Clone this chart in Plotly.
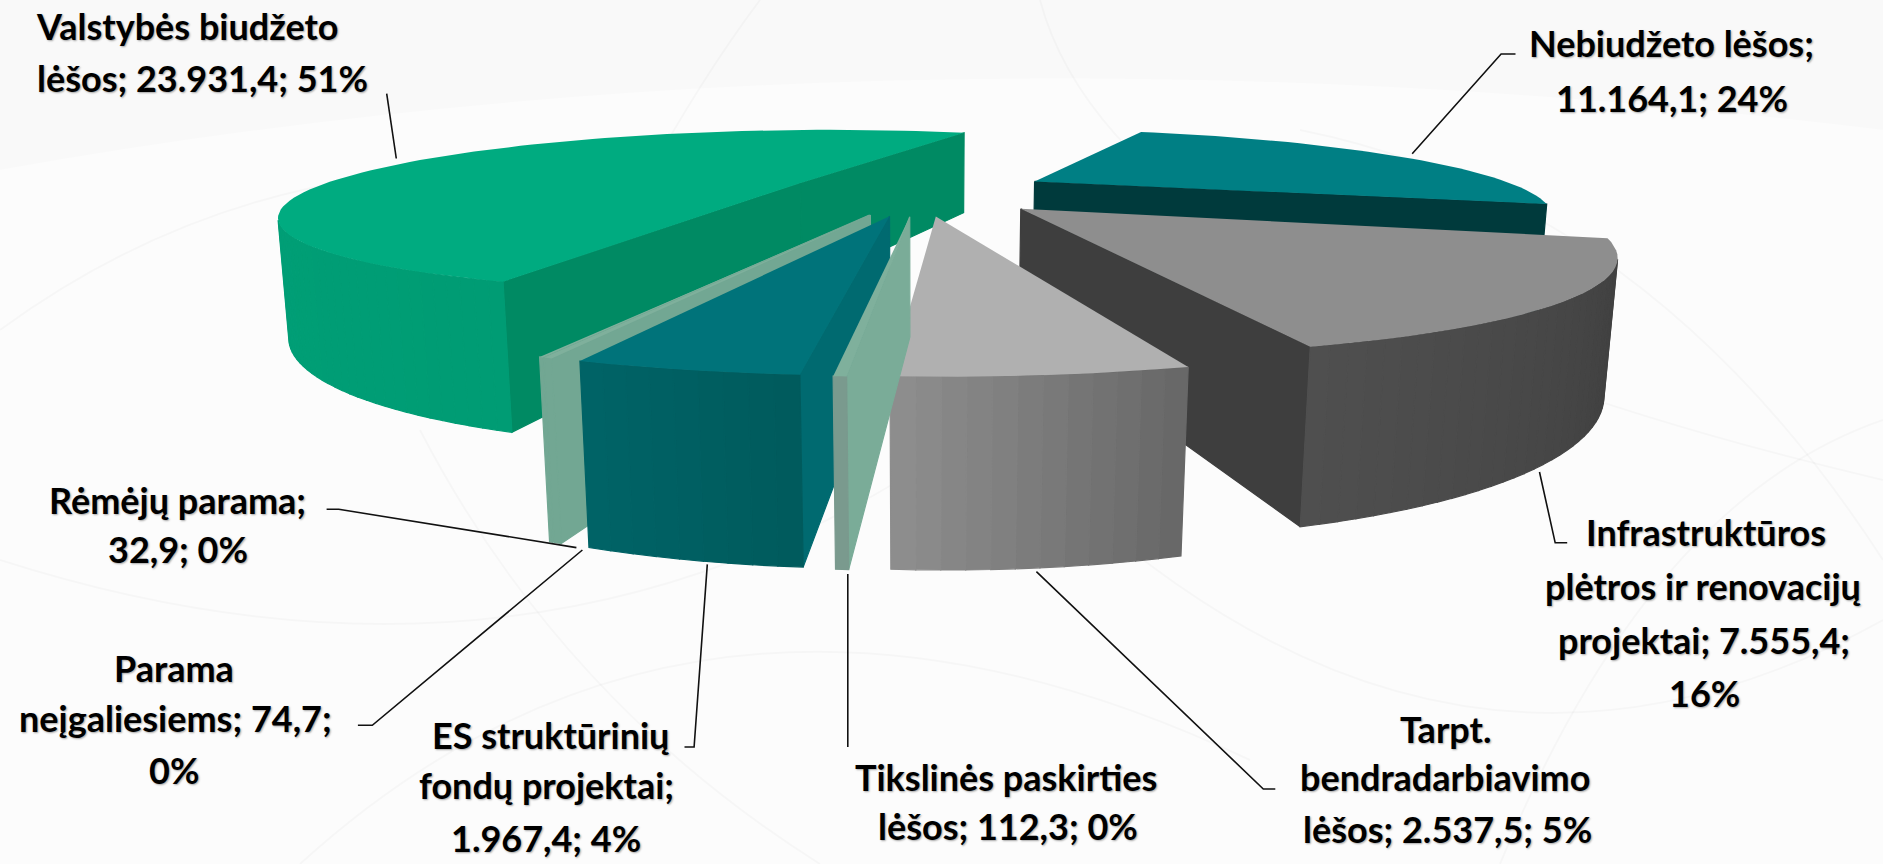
import math
import plotly.graph_objects as go

# ---- data ----
categories = ["Valstybės biudžeto lėšos", "Nebiudžeto lėšos", "Infrastruktūros plėtros ir renovacijų projektai",
              "Tarpt. bendradarbiavimo lėšos", "Tikslinės paskirties lėšos", "ES struktūrinių fondų projektai",
              "Parama neįgaliesiems", "Rėmėjų parama"]
values = [23931.4, 11164.1, 7555.4, 2537.5, 112.3, 1967.4, 74.7, 32.9]
top_colors = ["#00AB80", "#007F84", "#8E8E8E", "#B0B0B0", "#7FB09C", "#00737A", "#7FB09C", "#7FB09C"]
cut_colors = ["#008A63", "#003A3C", "#3E3E3E", "#6E6E6E", "#7AAC98", "#006A70", "#72A793", "#72A793"]
rim_start = ["#009C74", "#005A5C", "#3C3C3C", "#666666", "#7A9A8E", "#005A5C", "#72A793", "#72A793"]
rim_end = ["#00A67C", "#005A5C", "#4F4F4F", "#8F8F8F", "#7A9A8E", "#006467", "#72A793", "#72A793"]
label_lines = [
    ["Valstybės biudžeto", "lėšos; 23.931,4; 51%"],
    ["Nebiudžeto lėšos;", "11.164,1; 24%"],
    ["Infrastruktūros", "plėtros ir renovacijų", "projektai; 7.555,4;", "16%"],
    ["Tarpt.", "bendradarbiavimo", "lėšos; 2.537,5; 5%"],
    ["Tikslinės paskirties", "lėšos; 112,3; 0%"],
    ["ES struktūrinių", "fondų projektai;", "1.967,4; 4%"],
    ["Parama", "neįgaliesiems; 74,7;", "0%"],
    ["Rėmėjų parama;", "32,9; 0%"],
]

# ---- layout of labels and leaders (pixels of the page) ----
SC = 1883 / 1568
label_pos = [
    [(156, 22), (169, 65)],
    [(1392, 36), (1392, 82)],
    [(1421, 443), (1418, 488), (1419, 533), (1419, 577)],
    [(1204, 607), (1203, 647), (1205, 690)],
    [(838, 647), (839, 688)],
    [(458, 612), (455, 654), (455, 698)],
    [(145, 556), (146, 598), (145, 641)],
    [(148, 416), (148, 457)],
]
leaders = [
    [(322, 78), (330, 132)],
    [(1262, 45), (1250, 45), (1176, 128)],
    [(1282, 393), (1295, 452), (1305, 452)],
    [(863, 476), (1052, 657), (1062, 657)],
    [(706, 478), (706, 622)],
    [(589, 470), (578, 622), (570, 622)],
    [(485, 458), (310, 604), (298, 604)],
    [(272, 424), (282, 424), (480, 456)],
]
bg_curves = [
    "M 0 330 Q 300 110 700 190", "M 1040 0 Q 1120 300 1883 480", "M 1300 130 Q 1650 200 1883 560",
    "M 0 560 Q 500 720 900 480", "M 300 864 Q 700 500 1250 760", "M 1050 480 Q 1450 860 1883 620",
    "M 1500 864 Q 1650 500 1883 420", "M 420 430 Q 560 700 820 864", "M 760 0 Q 700 80 640 190",
]

# ---- projection of the exploded pie ----
CX, CY = 920.0, 198.0
FX, FY = 1225.0, 1265.0
D, PHI = 2.41, math.radians(10)
H = 0.219
EXPLODE = 0.27
RY = 0.90
C0 = (0.0, 0.08)
START = 22.0  # bearing at which the first slice ends, clockwise from far side
cs, sn = math.cos(PHI), math.sin(PHI)
CAM = (0.0, -D * cs, D * sn)


def project(x, y, z):
    zc = D + y * cs - z * sn
    return CX + FX * x / zc, CY - FY * (y * sn + z * cs) / zc


def rgb(h):
    return tuple(int(h[i:i + 2], 16) for i in (1, 3, 5))


def mix(a, b, t):
    ca, cb = rgb(a), rgb(b)
    return "#%02x%02x%02x" % tuple(round(ca[i] + (cb[i] - ca[i]) * t) for i in range(3))


fig = go.Figure()


def add_face(points, color, name, seam=True):
    xy = [project(*p) for p in points]
    xs = [q[0] for q in xy] + [xy[0][0]]
    ys = [q[1] for q in xy] + [xy[0][1]]
    fig.add_trace(go.Scatter(x=xs, y=ys, mode="lines", fill="toself", fillcolor=color,
                             line=dict(color=color, width=1.2 if seam else 0),
                             hoverinfo="text", text=name, showlegend=False))


def visible(point, normal):
    return sum((CAM[i] - point[i]) * normal[i] for i in range(3)) > 0


total = sum(values)
slices = []
# first slice ends at START, the others follow clockwise
theta = START - 360 * values[0] / total
for i, v in enumerate(values):
    span = 360 * v / total
    slices.append((i, theta, theta + span))
    theta += span


def draw_slice(i, t0, t1):
    name = categories[i]
    mid = math.radians((t0 + t1) / 2)
    ax = C0[0] + EXPLODE * math.sin(mid)
    ay = C0[1] + EXPLODE * math.cos(mid)
    a0, a1 = math.radians(t0), math.radians(t1)
    rim = lambda a: (ax + math.sin(a), ay + RY * math.cos(a))
    # cut faces
    for a, sign in ((a0, -1), (a1, 1)):
        px, py = rim(a)
        n = (sign * RY * math.cos(a), -sign * math.sin(a), 0.0)
        if visible((ax, ay, 0.0), n):
            add_face([(ax, ay, 0), (px, py, 0), (px, py, -H), (ax, ay, -H)], cut_colors[i], name)
    # rim, split in small shaded strips
    steps = max(1, int((t1 - t0) / 1.5))
    for k in range(steps):
        b0 = a0 + (a1 - a0) * k / steps
        b1 = a0 + (a1 - a0) * (k + 1) / steps
        bm = (b0 + b1) / 2
        p0, p1 = rim(b0), rim(b1)
        if visible((ax + math.sin(bm), ay + RY * math.cos(bm), 0.0), (math.sin(bm), math.cos(bm) / RY, 0.0)):
            add_face([(p0[0], p0[1], 0), (p1[0], p1[1], 0), (p1[0], p1[1], -H), (p0[0], p0[1], -H)],
                     mix(rim_start[i], rim_end[i], (k + 0.5) / steps), name)
    # top
    n = max(2, int((t1 - t0) / 2))
    arc = [rim(a0 + (a1 - a0) * k / n) for k in range(n + 1)]
    add_face([(ax, ay, 0)] + [(p[0], p[1], 0) for p in arc], top_colors[i], name, False)


def depth(s):
    i, t0, t1 = s
    mid = math.radians((t0 + t1) / 2)
    return math.cos(mid)


for s in sorted(slices, key=depth, reverse=True):
    draw_slice(*s)

shapes = [dict(type="path", path=p, line=dict(color="rgba(0,0,0,0.022)", width=2), layer="below")
          for p in bg_curves]
shapes.append(dict(type="path", path="M 0 0 L 1883 0 L 1883 130 Q 900 10 0 170 Z",
                   fillcolor="rgba(0,0,0,0.012)", line=dict(width=0), layer="below"))
for pts in leaders:
    d = "M " + " L ".join(f"{x * SC:.1f} {y * SC:.1f}" for x, y in pts)
    shapes.append(dict(type="path", path=d, line=dict(color="#111111", width=1.6)))

annotations = []
for lines, poss in zip(label_lines, label_pos):
    for text, (x, y) in zip(lines, poss):
        annotations.append(dict(x=x * SC, y=y * SC, xref="x", yref="y", text=f"<b>{text}</b>", showarrow=False,
                                xanchor="center", yanchor="middle",
                                font=dict(family="Lato, sans-serif", size=36, color="#000000",
                                          shadow="1px 1px 2px rgba(0,0,0,0.35)")))

fig.update_layout(
    width=1883, height=864, margin=dict(l=0, r=0, t=0, b=0),
    paper_bgcolor="#FCFCFC", plot_bgcolor="#FCFCFC", showlegend=False,
    xaxis=dict(range=[0, 1883], visible=False, fixedrange=True),
    yaxis=dict(range=[864, 0], visible=False, fixedrange=True),
    shapes=shapes, annotations=annotations,
)
fig.write_html("out.html", config={"displayModeBar": False},
               post_script="document.body.style.margin='0';document.body.style.overflow='hidden';")
